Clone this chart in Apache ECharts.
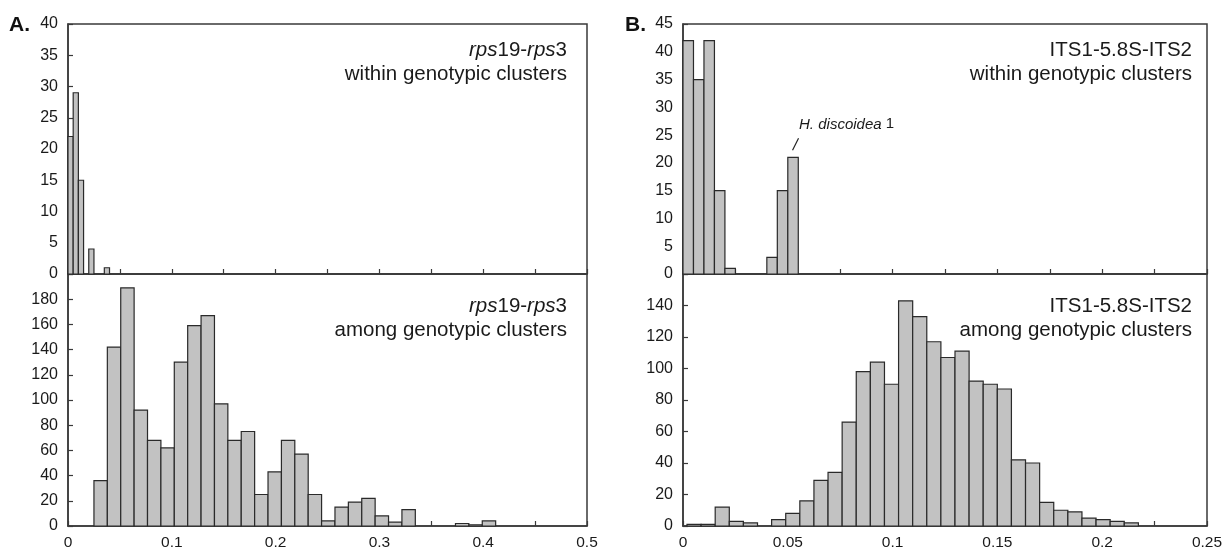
<!DOCTYPE html>
<html><head><meta charset="utf-8">
<script src="https://cdn.jsdelivr.net/npm/echarts@6/dist/echarts.min.js"></script>
<style>html,body{margin:0;padding:0;background:#fff}#c{width:1227px;height:552px}</style>
</head><body><div id="c"></div>
<script>
// ---- Panel A: rps19-rps3 (pairwise distances) ----
const aWithinStart = 0, aWithinWidth = 0.005;
const aWithinCounts = [22, 29, 15, 0, 4, 0, 0, 1];
const aAmongStart = 0.025, aAmongWidth = 0.0129;
const aAmongCounts = [36, 142, 189, 92, 68, 62, 130, 159, 167, 97, 68, 75, 25, 43, 68, 57, 25, 4, 15, 19, 22, 8, 3, 13, 0, 0, 0, 2, 1, 4];
// ---- Panel B: ITS1-5.8S-ITS2 ----
const bWithinStart = 0, bWithinWidth = 0.005;
const bWithinCounts = [42, 35, 42, 15, 1, 0, 0, 0, 3, 15, 21];
const bAmongStart = 0.0019, bAmongWidth = 0.00673;
const bAmongCounts = [1, 1, 12, 3, 2, 0, 4, 8, 16, 29, 34, 66, 98, 104, 90, 143, 133, 117, 107, 111, 92, 90, 87, 42, 40, 15, 10, 9, 5, 4, 3, 2];
// axis settings
const aXMax = 0.5, aXStep = 0.1;
const bXMax = 0.25, bXStep = 0.05;
const aWithinYMax = 40, aAmongYMax = 200;
const bWithinYMax = 45, bAmongYMax = 160;
const annotationBin = 10; // H. discoidea 1 bar in bWithinCounts

const FONT = '"Liberation Sans", Arial, Helvetica, sans-serif';
const AX = '#3a3a3a';
const TXT = '#1a1a1a';
const TITLE_SIZE = 20.5;

function toBins(start, width, counts) {
  return counts.map((c, i) => [start + i * width, start + (i + 1) * width, c]);
}

function histSeries(idx, data) {
  return {
    type: 'custom', xAxisIndex: idx, yAxisIndex: idx, data: data, silent: true,
    encode: { x: [0, 1], y: 2 },
    renderItem: function (params, api) {
      const v = api.value(2);
      if (!v) return { type: 'group', children: [] };
      const a = api.coord([api.value(0), v]);
      const b = api.coord([api.value(1), 0]);
      return {
        type: 'rect',
        shape: { x: a[0], y: a[1], width: b[0] - a[0], height: b[1] - a[1] },
        style: { fill: '#c2c2c2', stroke: '#2a2a2a', lineWidth: 1.2 }
      };
    }
  };
}

function xAx(grid, max, step, showLabels) {
  return {
    type: 'value', gridIndex: grid, min: 0, max: max, interval: step,
    axisLine: { show: true, onZero: false, lineStyle: { color: AX, width: 1.5 } },
    axisTick: { show: true, inside: true, length: 5, lineStyle: { color: AX, width: 1.2 } },
    minorTick: { show: true, splitNumber: 2, length: 5, lineStyle: { color: AX, width: 1.2 } },
    axisLabel: { show: showLabels, margin: 9, fontSize: 15.5, color: TXT, fontFamily: FONT,
      formatter: v => String(+v.toFixed(3)) },
    splitLine: { show: false }, minorSplitLine: { show: false }
  };
}
function yAx(grid, max, step, hideMax) {
  return {
    type: 'value', gridIndex: grid, min: 0, max: max, interval: step,
    axisLine: { show: true, onZero: false, lineStyle: { color: AX, width: 1.5 } },
    axisTick: { show: true, inside: true, length: 5, lineStyle: { color: AX, width: 1.2 } },
    axisLabel: { margin: 10, fontSize: 16, color: TXT, fontFamily: FONT,
      formatter: v => (hideMax && v === max) ? '' : String(v) },
    splitLine: { show: false }
  };
}

const gridBase = { show: true, borderColor: AX, borderWidth: 1.5, containLabel: false };
const option = {
  animation: false,
  backgroundColor: '#fff',
  grid: [
    Object.assign({ left: 68, top: 24, width: 519, height: 250 }, gridBase),
    Object.assign({ left: 68, top: 274, width: 519, height: 252 }, gridBase),
    Object.assign({ left: 683, top: 24, width: 524, height: 250 }, gridBase),
    Object.assign({ left: 683, top: 274, width: 524, height: 252 }, gridBase)
  ],
  xAxis: [
    xAx(0, aXMax, aXStep, false), xAx(1, aXMax, aXStep, true),
    xAx(2, bXMax, bXStep, false), xAx(3, bXMax, bXStep, true)
  ],
  yAxis: [
    yAx(0, aWithinYMax, 5, false), yAx(1, aAmongYMax, 20, true),
    yAx(2, bWithinYMax, 5, false), yAx(3, bAmongYMax, 20, true)
  ],
  series: [
    histSeries(0, toBins(aWithinStart, aWithinWidth, aWithinCounts)),
    histSeries(1, toBins(aAmongStart, aAmongWidth, aAmongCounts)),
    histSeries(2, toBins(bWithinStart, bWithinWidth, bWithinCounts)),
    histSeries(3, toBins(bAmongStart, bAmongWidth, bAmongCounts))
  ]
};

const chart = echarts.init(document.getElementById('c'), null, { renderer: 'canvas' });
chart.setOption(option);

function label(x, y, text, rich, size) {
  return { type: 'text', x: x, y: y, silent: true,
    style: { text: text, align: 'right', verticalAlign: 'middle', fill: TXT,
      font: size + 'px ' + FONT, rich: rich } };
}
const italic = { i: { fontStyle: 'italic', fontSize: TITLE_SIZE, fontFamily: FONT, fill: TXT }, n: { fontSize: TITLE_SIZE, fontFamily: FONT, fill: TXT } };

// annotation anchored to H. discoidea 1 bar
const ab = toBins(bWithinStart, bWithinWidth, bWithinCounts)[annotationBin];
const p = chart.convertToPixel({ xAxisIndex: 2, yAxisIndex: 2 }, [(ab[0] + ab[1]) / 2, ab[2]]);

chart.setOption({
  graphic: [
    { type: 'text', x: 9, y: 25, silent: true, style: { text: 'A.', font: 'bold 21px ' + FONT, fill: '#111', verticalAlign: 'middle' } },
    { type: 'text', x: 625, y: 25, silent: true, style: { text: 'B.', font: 'bold 21px ' + FONT, fill: '#111', verticalAlign: 'middle' } },
    label(567, 50, '{i|rps}{n|19-}{i|rps}{n|3}', italic, TITLE_SIZE),
    label(567, 74, 'within genotypic clusters', null, TITLE_SIZE),
    label(567, 306, '{i|rps}{n|19-}{i|rps}{n|3}', italic, TITLE_SIZE),
    label(567, 330, 'among genotypic clusters', null, TITLE_SIZE),
    label(1192, 50, 'ITS1-5.8S-ITS2', null, TITLE_SIZE),
    label(1192, 74, 'within genotypic clusters', null, TITLE_SIZE),
    label(1192, 306, 'ITS1-5.8S-ITS2', null, TITLE_SIZE),
    label(1192, 330, 'among genotypic clusters', null, TITLE_SIZE),
    { type: 'line', silent: true, shape: { x1: p[0] - 0.5, y1: p[1] - 7, x2: p[0] + 5.5, y2: p[1] - 19 },
      style: { stroke: '#222', lineWidth: 1.2 } },
    { type: 'text', x: p[0] + 6, y: p[1] - 33, silent: true,
      style: { text: '{i|H. discoidea}{n| 1}', verticalAlign: 'middle', fill: TXT,
        rich: { i: { fontStyle: 'italic', fontSize: 15, fontFamily: FONT, fill: TXT }, n: { fontSize: 15, fontFamily: FONT, fill: TXT } } } }
  ]
});
</script>
</body></html>
